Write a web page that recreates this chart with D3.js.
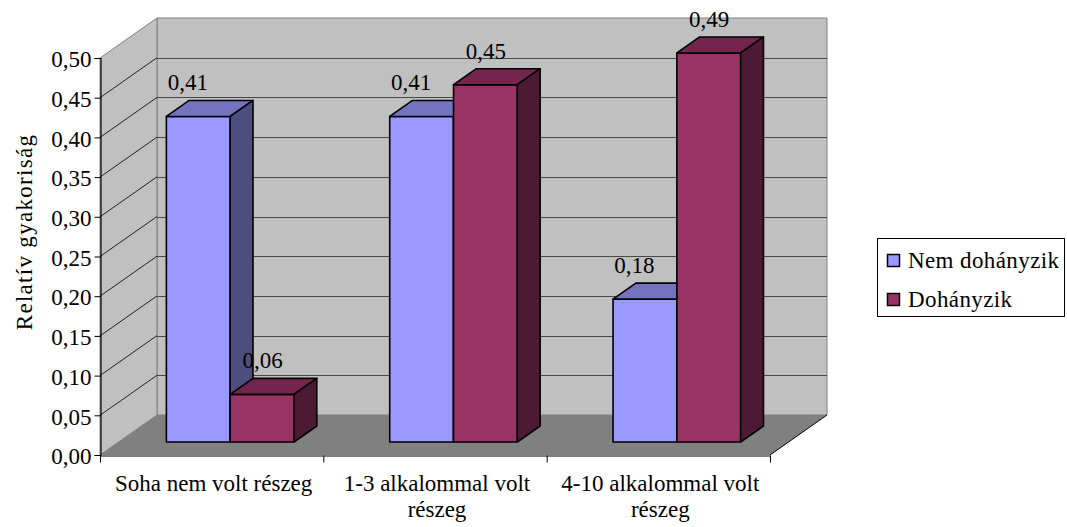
<!DOCTYPE html>
<html>
<head>
<meta charset="utf-8">
<script src="https://cdn.jsdelivr.net/npm/d3@7"></script>
<style>
  html, body { margin: 0; padding: 0; background: #fff; }
  svg { display: block; }
  text { font-family: "Liberation Serif", "Times New Roman", serif; fill: #000; }
</style>
</head>
<body>
<svg id="chart" width="1067" height="527"></svg>
<script>
// ---- data ----
const categories = ["Soha nem volt részeg", "1-3 alkalommal volt részeg", "4-10 alkalommal volt részeg"];
const seriesNames = ["Nem dohányzik", "Dohányzik"];
const nemDohanyzik = [0.41, 0.41, 0.18];
const dohanyzik = [0.06, 0.45, 0.49];
const yTickValues = [0, 0.05, 0.10, 0.15, 0.20, 0.25, 0.30, 0.35, 0.40, 0.45, 0.50];
const yTitle = "Relatív gyakoriság";

const seriesValues = [nemDohanyzik, dohanyzik];

// ---- styling ----
const faceColors = [
  { front: "#9999FF", top: "#7373BF", side: "#4D4D80" },
  { front: "#993366", top: "#73264D", side: "#4D1A33" }
];
const labelShift = [8, 19];          // data label offset per series
const fontSize = 23;

// ---- layout ----
const plotLeft = 100, plotRight = 770, plotBottom = 455, plotTop = 58;
const depthX = 57, depthY = -40;     // oblique depth of the plot box
const barZ0 = 0.325, barZ1 = 0.725;  // bar slab position inside the depth

const svg = d3.select("#chart");
const hu = d3.formatLocale({ decimal: ",", thousands: " ", grouping: [3], currency: ["", " Ft"] });
const fmt = hu.format(".2f");

const x0 = d3.scaleBand().domain(categories).range([plotLeft, plotRight]).padding(0);
const x1 = d3.scaleBand().domain(seriesNames).range([0, x0.bandwidth()])
  .paddingInner(0).paddingOuter(0.75);
const y = d3.scaleLinear().domain([0, 0.5]).range([plotBottom, plotTop]);

// front-plane x, value, depth fraction -> screen point
const proj = (px, v, z) => [px + z * depthX, y(v) + z * depthY];
const poly = pts => pts.map(p => p.join(",")).join(" ");

const yMax = y.domain()[1];

// back wall
svg.append("polygon")
  .attr("points", poly([proj(plotLeft, 0, 1), proj(plotRight, 0, 1), proj(plotRight, yMax, 1), proj(plotLeft, yMax, 1)]))
  .attr("fill", "#C0C0C0").attr("stroke", "#808080").attr("stroke-width", 1);
// side wall
svg.append("polygon")
  .attr("points", poly([proj(plotLeft, 0, 0), proj(plotLeft, 0, 1), proj(plotLeft, yMax, 1), proj(plotLeft, yMax, 0)]))
  .attr("fill", "#C0C0C0").attr("stroke", "#808080").attr("stroke-width", 1);

// gridlines on back wall and side wall
const inner = yTickValues.filter(v => v > 0 && v < yMax);
svg.append("g").selectAll("line").data(inner).join("line")
  .attr("x1", v => proj(plotLeft, v, 1)[0]).attr("y1", v => Math.round(proj(plotLeft, v, 1)[1]) + 0.5)
  .attr("x2", v => proj(plotRight, v, 1)[0]).attr("y2", v => Math.round(proj(plotRight, v, 1)[1]) + 0.5)
  .attr("stroke", "#4a4a4a").attr("stroke-width", 1);
svg.append("g").selectAll("line").data(inner).join("line")
  .attr("x1", v => proj(plotLeft, v, 0)[0]).attr("y1", v => proj(plotLeft, v, 0)[1])
  .attr("x2", v => proj(plotLeft, v, 1)[0]).attr("y2", v => proj(plotLeft, v, 1)[1])
  .attr("stroke", "#222").attr("stroke-width", 1);

// floor
svg.append("polygon")
  .attr("points", poly([proj(plotLeft, 0, 0), proj(plotRight, 0, 0), proj(plotRight, 0, 1), proj(plotLeft, 0, 1)]))
  .attr("fill", "#808080");
svg.append("line")
  .attr("x1", proj(plotRight, 0, 0)[0]).attr("y1", proj(plotRight, 0, 0)[1])
  .attr("x2", proj(plotRight, 0, 1)[0]).attr("y2", proj(plotRight, 0, 1)[1])
  .attr("stroke", "#000").attr("stroke-width", 1);

// y axis
const yAxis = d3.axisLeft(y).tickValues(yTickValues).tickSize(6).tickPadding(3).tickFormat(fmt);
const gy = svg.append("g").attr("transform", `translate(${plotLeft + 0.5},0)`).call(yAxis);
gy.select(".domain").attr("stroke", "#000").attr("stroke-width", 1.2);
gy.selectAll(".tick line").attr("stroke", "#000");
gy.selectAll(".tick text")
  .attr("font-family", "Liberation Serif").attr("font-size", fontSize)
  .attr("dy", "0.38em").attr("x", -9);

// x axis
const xAxis = d3.axisBottom(x0).tickSize(0).tickFormat("");
const gx = svg.append("g").attr("transform", `translate(0,${plotBottom + 0.5})`).call(xAxis);
gx.select(".domain").attr("stroke", "#000").attr("stroke-width", 1.2);
const boundaries = categories.map(c => x0(c)).concat([x0.range()[1]]);
gx.selectAll(".sep").data(boundaries).join("line").attr("class", "sep")
  .attr("x1", d => d + 0.5).attr("x2", d => d + 0.5).attr("y1", 0).attr("y2", 7)
  .attr("stroke", "#000");

// category labels with wrapping
const catLabels = svg.append("g").selectAll("text").data(categories).join("text")
  .attr("x", d => x0(d) + x0.bandwidth() / 2 + 2)
  .attr("y", 491)
  .attr("text-anchor", "middle")
  .attr("font-size", fontSize);
catLabels.each(function (d) {
  const t = d3.select(this);
  const words = d.split(" ");
  const maxW = x0.bandwidth() - 8;
  let line = [];
  const lines = [];
  const probe = t.append("tspan");
  words.forEach(w => {
    const trial = line.concat([w]).join(" ");
    probe.text(trial);
    if (probe.node().getComputedTextLength() > maxW && line.length) {
      lines.push(line.join(" "));
      line = [w];
    } else {
      line.push(w);
    }
  });
  lines.push(line.join(" "));
  probe.remove();
  const cx = t.attr("x");
  lines.forEach((ln, i) => {
    t.append("tspan").attr("x", cx).attr("dy", i === 0 ? 0 : 26).text(ln);
  });
});

// bars
const bars = [];
categories.forEach((c, ci) => {
  seriesNames.forEach((s, si) => {
    bars.push({ c, s, si, v: seriesValues[si][ci] });
  });
});

const gBars = svg.append("g");
bars.forEach(b => {
  const xl = x0(b.c) + x1(b.s);
  const xr = xl + x1.bandwidth();
  const col = faceColors[b.si];
  const g = gBars.append("g").attr("stroke", "#000").attr("stroke-width", 1.6).attr("stroke-linejoin", "round");
  // front face
  g.append("polygon").attr("fill", col.front)
    .attr("points", poly([proj(xl, 0, barZ0), proj(xr, 0, barZ0), proj(xr, b.v, barZ0), proj(xl, b.v, barZ0)]));
  // top face
  g.append("polygon").attr("fill", col.top)
    .attr("points", poly([proj(xl, b.v, barZ0), proj(xr, b.v, barZ0), proj(xr, b.v, barZ1), proj(xl, b.v, barZ1)]));
  // right side face
  g.append("polygon").attr("fill", col.side)
    .attr("points", poly([proj(xr, 0, barZ0), proj(xr, 0, barZ1), proj(xr, b.v, barZ1), proj(xr, b.v, barZ0)]));
});

// data labels
svg.append("g").selectAll("text").data(bars).join("text")
  .attr("x", b => x0(b.c) + x1(b.s) + x1.bandwidth() / 2 + labelShift[b.si])
  .attr("y", b => proj(0, b.v, barZ1)[1] - 10)
  .attr("text-anchor", "middle")
  .attr("font-size", fontSize)
  .text(b => fmt(b.v));

// y axis title
svg.append("text")
  .attr("transform", "translate(32,232) rotate(-90)")
  .attr("text-anchor", "middle")
  .attr("font-size", fontSize)
  .attr("letter-spacing", 1.3)
  .text(yTitle);

// legend
const lg = svg.append("g");
lg.append("rect").attr("x", 877.5).attr("y", 238.5).attr("width", 187).attr("height", 78)
  .attr("fill", "#fff").attr("stroke", "#000").attr("stroke-width", 1);
seriesNames.forEach((s, i) => {
  lg.append("rect").attr("x", 887.5).attr("y", 254.5 + i * 39).attr("width", 12).attr("height", 12)
    .attr("fill", faceColors[i].front).attr("stroke", "#000").attr("stroke-width", 1.5);
  lg.append("text").attr("x", 908).attr("y", 268 + i * 38.5)
    .attr("font-size", fontSize).attr("letter-spacing", 0.4).text(s);
});
</script>
</body>
</html>
